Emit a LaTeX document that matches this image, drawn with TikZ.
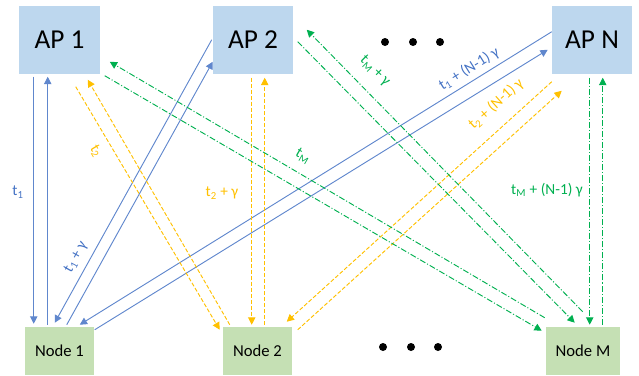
\documentclass[tikz,border=0pt]{standalone}
\usepackage{fontspec}
\setmainfont{Carlito}
\usetikzlibrary{arrows.meta,calc}
\definecolor{apfill}{HTML}{BDD7EE}
\definecolor{ndfill}{HTML}{C5E0B4}
\definecolor{cblue}{HTML}{4472C4}
\definecolor{cyel}{HTML}{FFC000}
\definecolor{cgrn}{HTML}{00B050}
\tikzset{
  apbox/.style={fill=apfill, minimum width=60pt, minimum height=51pt, inner sep=0pt, font=\fontsize{20.5}{22}\selectfont},
  ndbox/.style={fill=ndfill, minimum height=36pt, inner sep=0pt, font=\fontsize{12.5}{14}\selectfont},
  conn/.style={line width=0.7pt, -{Triangle[length=5.5pt,width=5.5pt]}},
  bluecon/.style={conn, cblue!85},
  yelcon/.style={conn, cyel, dash pattern=on 3pt off 1.5pt},
  grncon/.style={conn, cgrn, dash pattern=on 4.5pt off 1.5pt on 0.8pt off 1.5pt},
  lbl/.style={inner sep=0pt, font=\fontsize{11.5}{13}\selectfont},
  dotc/.style={circle, fill=black, minimum size=6pt, inner sep=0pt}
}
\begin{document}
\begin{tikzpicture}[x=0.75pt,y=-0.75pt]
\useasboundingbox (0,0) rectangle (639,375);
% boxes
\node[apbox, minimum width=60.75pt] (ap1) at (59.5,40) {AP 1};
\node[apbox] (ap2) at (253,40) {AP 2};
\node[apbox] (apn) at (592,40) {AP N};
\node[ndbox, minimum width=51.75pt] (n1) at (59.5,351) {Node 1};
\node[ndbox, minimum width=51.75pt] (n2) at (257.5,351) {Node 2};
\node[ndbox, minimum width=55.5pt] (nm) at (583,351) {Node M};
% dots
\node[dotc] (d1) at (385,42) {};
\node[dotc] (d2) at (413,42) {};
\node[dotc] (d3) at (440,42) {};
\node[dotc] (e1) at (383,347) {};
\node[dotc] (e2) at (411,347) {};
\node[dotc] (e3) at (438,347) {};
% blue
\draw[bluecon] ($(ap1.north west)+(15,71)$) -- ($(n1.north west)+(9,-3)$);
\draw[bluecon] ($(n1.north west)+(23,-2)$) -- ($(ap1.north west)+(29,71)$);
\draw[bluecon] ($(ap2.north west)+(-1,34)$) -- ($(n1.north west)+(30,-4)$);
\draw[bluecon] ($(n1.north west)+(42,-2)$) -- ($(ap2.north west)+(0,56)$);
\draw[bluecon] ($(apn.north west)+(0,26)$) -- ($(n1.north west)+(55,-2)$);
\draw[bluecon] ($(n1.north west)+(70,3)$) -- ($(apn.north west)+(-4,44)$);
% yellow
\draw[yelcon] ($(ap1.north west)+(57,81)$) -- ($(n2.north west)+(-3,3)$);
\draw[yelcon] ($(n2.north west)+(7,-2)$) -- ($(ap1.north west)+(69,74)$);
\draw[yelcon] ($(ap2.north west)+(39,72)$) -- ($(n2.north west)+(29,-2)$);
\draw[yelcon] ($(n2.north west)+(42,-2)$) -- ($(ap2.north west)+(52,72)$);
\draw[yelcon] ($(apn.north west)+(0,76)$) -- ($(n2.north west)+(64,-5)$);
\draw[yelcon] ($(n2.north west)+(75,3)$) -- ($(apn.north west)+(10,85)$);
% green
\draw[grncon] ($(ap1.north west)+(86,70)$) -- ($(nm.north west)+(-4,4)$);
\draw[grncon] ($(nm.north west)+(-1,-9)$) -- ($(ap1.north west)+(91,56)$);
\draw[grncon] ($(ap2.north west)+(85,36)$) -- ($(nm.north west)+(29,-4)$);
\draw[grncon] ($(nm.north west)+(37,-15)$) -- ($(ap2.north west)+(94,24)$);
\draw[grncon] ($(apn.north west)+(38,72)$) -- ($(nm.north west)+(44,-2)$);
\draw[grncon] ($(nm.north west)+(57,-2)$) -- ($(apn.north west)+(51,72)$);
% labels
\node[lbl, text=cblue] (l1) at (18,192) {t\textsubscript{1}};
\node[lbl, text=cyel, rotate=-59] (l2) at (96,151) {t\textsubscript{2}};
\node[lbl, text=cgrn, rotate=-30] (l3) at (303,156) {t\textsubscript{M}};
\node[lbl, text=cyel] (l4) at (222,193) {t\textsubscript{2} + γ};
\node[lbl, text=cblue, rotate=61] (l5) at (76,257) {t\textsubscript{1} + γ};
\node[lbl, text=cgrn, rotate=-45] (l6) at (375,71) {t\textsubscript{M} + γ};
\node[lbl, text=cblue, rotate=32] (l7) at (469,69) {t\textsubscript{1} + (N-1) γ};
\node[lbl, text=cyel, rotate=42] (l8) at (496,104) {t\textsubscript{2} + (N-1) γ};
\node[lbl, text=cgrn] (l9) at (547,190) {t\textsubscript{M} + (N-1) γ};
\end{tikzpicture}
\end{document}
